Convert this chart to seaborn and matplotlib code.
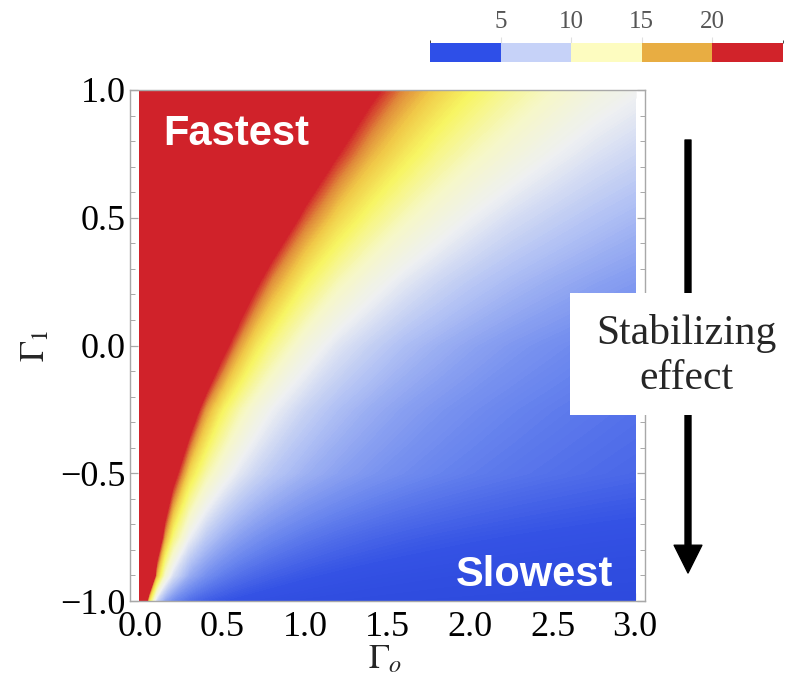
import numpy as np
import matplotlib
matplotlib.use("Agg")
import matplotlib.pyplot as plt
import seaborn as sns
from matplotlib.colors import ListedColormap, BoundaryNorm, Normalize, LinearSegmentedColormap
from matplotlib.cm import ScalarMappable
from matplotlib.ticker import MultipleLocator, FuncFormatter
from matplotlib.patches import Rectangle

# ---------------- data ----------------
gamma_o = [0.0, 0.05, 0.1, 0.15, 0.2, 0.3, 0.4, 0.5, 0.6, 0.7, 0.8,
           1.0, 1.2, 1.4, 1.6, 1.8, 2.0, 2.25, 2.5, 2.75, 3.0]
gamma_1 = [-1.0, -0.9, -0.75, -0.5, -0.25, 0.0, 0.25, 0.5, 0.75, 1.0]

row_m100 = [60, 16.0, 8.0, 5.33, 4.0, 2.67, 2.0, 1.6, 1.33, 1.14, 1.0, 0.8, 0.67, 0.57, 0.5, 0.44, 0.4, 0.36, 0.32, 0.29, 0.27]
row_m090 = [60, 34.0, 17.0, 11.3, 8.5, 5.67, 4.25, 3.4, 2.83, 2.43, 2.13, 1.7, 1.42, 1.21, 1.06, 0.94, 0.85, 0.76, 0.68, 0.62, 0.57]
row_m075 = [60, 47.3, 25.3, 17.6, 13.6, 9.42, 7.27, 5.95, 5.05, 4.4, 3.9, 3.19, 2.71, 2.36, 2.09, 1.88, 1.71, 1.54, 1.4, 1.28, 1.19]
row_m050 = [60, 60, 37.6, 27.2, 21.6, 15.6, 12.4, 10.4, 8.96, 7.92, 7.12, 5.96, 5.15, 4.55, 4.09, 3.72, 3.42, 3.11, 2.86, 2.65, 2.47]
row_m025 = [60, 60, 60, 42.9, 33.1, 23.0, 17.7, 14.5, 12.3, 10.7, 9.5, 7.78, 6.6, 5.74, 5.09, 4.58, 4.17, 3.75, 3.41, 3.13, 2.89]
row_p000 = [60, 60, 60, 60, 53.0, 35.3, 26.5, 21.2, 17.7, 15.1, 13.25, 10.6, 8.8, 7.6, 6.6, 5.9, 5.3, 4.7, 4.24, 3.85, 3.53]
row_p025 = [60, 60, 60, 60, 60, 48.0, 36.0, 28.8, 24.0, 20.6, 18.0, 14.4, 12.0, 10.3, 9.0, 8.0, 7.2, 6.4, 5.76, 5.24, 4.8]
row_p050 = [60, 60, 60, 60, 60, 60, 47.5, 38.0, 31.7, 27.1, 23.75, 19.0, 15.8, 13.6, 11.9, 10.6, 9.5, 8.4, 7.6, 6.9, 6.3]
row_p075 = [60, 60, 60, 60, 60, 60, 60, 48.0, 40.0, 34.3, 30.0, 24.0, 20.0, 17.1, 15.0, 13.3, 12.0, 10.7, 9.6, 8.7, 8.0]
row_p100 = [60, 60, 60, 60, 60, 60, 60, 58.0, 48.3, 41.4, 36.3, 29.0, 24.2, 20.7, 18.1, 16.1, 14.5, 12.9, 11.6, 10.5, 9.7]

x_ticks = [0.0, 0.5, 1.0, 1.5, 2.0, 2.5, 3.0]
y_ticks = [-1.0, -0.5, 0.0, 0.5, 1.0]
cbar_bounds = [0, 5, 10, 15, 20, 25]
cbar_ticks = [5, 10, 15, 20]
cbar_colors = ["#2e4fe8", "#c6d2f8", "#fdfcc0", "#e8ad42", "#d1232a"]
density_stops = [0.0, 1.5, 3.8, 6.7, 9.5, 11.6, 14.4, 16.5, 18.2, 20.0]
density_colors = ["#2c48dc", "#3452e4", "#6a86ee", "#b0c0f4", "#eef0f2",
                  "#f6f7c8", "#f7f562", "#f0c848", "#e08a3a", "#d0222a"]

# ---------------- style ----------------
sns.set_style("white")
plt.rcParams["font.family"] = ["Liberation Serif", "DejaVu Serif"]
plt.rcParams["mathtext.fontset"] = "stix"

fig = plt.figure(figsize=(7.96, 6.81), dpi=100)
W, H = 796, 681
ax = fig.add_axes([130 / W, 80 / H, 515 / W, 511 / H])

Z = np.array([row_m100, row_m090, row_m075, row_m050, row_m025,
              row_p000, row_p025, row_p050, row_p075, row_p100])
vmax = density_stops[-1]
cmap = LinearSegmentedColormap.from_list(
    "rate", list(zip([s / vmax for s in density_stops], density_colors)))
cmap = cmap.with_extremes(over=density_colors[-1], under=density_colors[0])
levels = np.append(np.arange(0, vmax + 0.001, 0.1), 61)
ax.contourf(gamma_o, gamma_1, Z, levels=levels, cmap=cmap,
            norm=Normalize(0, vmax), antialiased=False)

ax.set_xlim(-0.06, 3.06)
ax.set_ylim(-1.0, 1.0)
ax.set_xticks(x_ticks)
ax.set_yticks(y_ticks)
ax.xaxis.set_minor_locator(MultipleLocator(0.1))
ax.yaxis.set_minor_locator(MultipleLocator(0.1))
fmt = FuncFormatter(lambda v, p: f"{v:.1f}".replace("-", "\u2212"))
ax.xaxis.set_major_formatter(fmt)
ax.yaxis.set_major_formatter(fmt)
for sp in ax.spines.values():
    sp.set_visible(True)
    sp.set_color("#a8a8a8")
    sp.set_linewidth(1.0)
ax.tick_params(which="both", direction="in", top=True, right=True,
               bottom=True, left=True, color="#a8a8a8")
ax.tick_params(which="major", length=6, width=0.9, labelsize=26,
               labelcolor="black")
ax.tick_params(axis="x", which="major", pad=7)
ax.tick_params(axis="y", which="major", pad=3)
ax.tick_params(which="minor", length=3.5, width=0.7)

ax.set_xlabel(r"$\Gamma_o$", fontsize=25)
ax.set_ylabel(r"$\Gamma_1$", fontsize=25)
ax.xaxis.set_label_coords(0.495, -0.083)
ax.yaxis.set_label_coords(-0.152, 0.5)

ax.text(0.14, 0.784, "Fastest", color="white", fontsize=30, fontweight="bold",
        family="Liberation Sans", ha="left", va="baseline")
ax.text(2.87, -0.94, "Slowest", color="white", fontsize=30, fontweight="bold",
        family="Liberation Sans", ha="right", va="baseline")

# arrow + annotation box
ax.annotate("", xy=(688, H - 573), xytext=(688, H - 140),
            xycoords="figure pixels", textcoords="figure pixels",
            annotation_clip=False,
            arrowprops=dict(facecolor="black", edgecolor="black",
                            width=4.3, headwidth=20, headlength=20, shrink=0))
fig.add_artist(Rectangle((570 / W, (H - 415) / H), 215 / W, 122 / H,
                         transform=fig.transFigure, facecolor="white",
                         edgecolor="none", zorder=5))
fig.text(686 / W, (H - 356) / H, "Stabilizing\neffect", ha="center",
         va="center", fontsize=30, linespacing=1.25, zorder=6)

# colour bar
cax = fig.add_axes([430 / W, (H - 62) / H, 353 / W, 19 / H])
sm = ScalarMappable(norm=BoundaryNorm(cbar_bounds, len(cbar_colors)),
                    cmap=ListedColormap(cbar_colors))
cb = fig.colorbar(sm, cax=cax, orientation="horizontal", ticks=cbar_ticks)
cb.outline.set_visible(False)
cax.xaxis.set_ticks_position("top")
cax.tick_params(length=4, width=0.8, color="#e0e0e0", labelsize=18,
                labelcolor="#555555", pad=3)

fig.savefig("out.png", dpi=100)
